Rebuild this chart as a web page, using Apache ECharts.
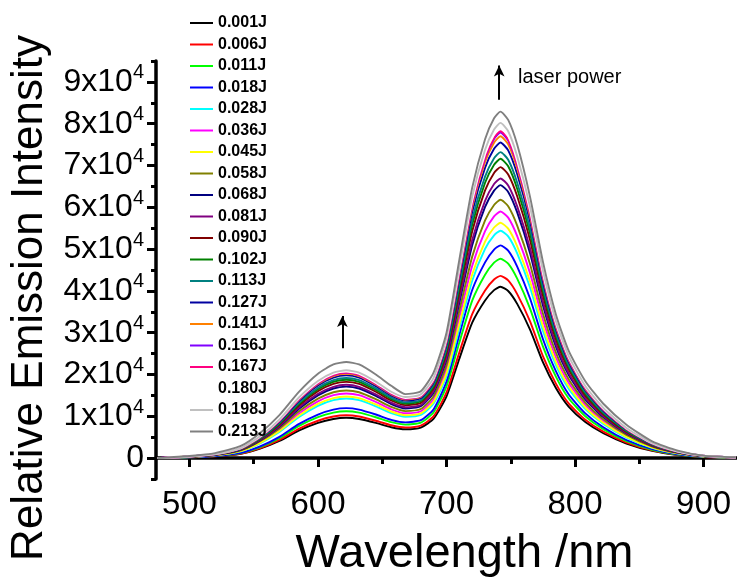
<!DOCTYPE html>
<html><head><meta charset="utf-8">
<script src="https://cdn.jsdelivr.net/npm/echarts@6/dist/echarts.min.js"></script>
<style>html,body{margin:0;padding:0;background:#fff}#c{width:737px;height:583px}</style>
</head><body><div id="c"></div>
<script>
const wavelengths = [475,500,520,540,555,570,585,600,612,622,632,645,657,668,680,690,700,710,720,730,737,742,748,755,765,775,785,795,808,822,840,860,880,900,925];
const energyLabels = ['0.001J','0.006J','0.011J','0.018J','0.028J','0.036J','0.045J','0.058J','0.068J','0.081J','0.090J','0.102J','0.113J','0.127J','0.141J','0.156J','0.167J','0.180J','0.198J','0.213J'];
const seriesColors = ['#000000','#ff0000','#00ff00','#0000ff','#00ffff','#ff00ff','#ffff00','#808000','#000080','#800080','#800000','#008000','#008080','#0000a0','#ff8000','#8000ff','#ff0080','#ffffff','#c0c0c0','#808080'];

const e001 = [0,160,410,1030,2260,4100,6560,8410,9350,9640,9350,8410,7380,6890,7300,9430,14760,23780,32390,37720,40180,41000,39980,36900,30750,22960,16810,12300,8610,5950,3490,1720,740,250,80];
const e006 = [0,170,440,1090,2400,4360,6980,8940,9940,10250,9940,8940,7850,7320,7760,10030,15700,25290,34440,40110,42730,43600,42510,39240,32700,24420,17880,13080,9160,6320,3710,1830,780,260,90];
const e011 = [0,190,480,1190,2620,4770,7630,9780,10880,11210,10880,9780,8590,8010,8490,10970,17170,27670,37680,43880,46750,47700,46510,42930,35780,26710,19560,14310,10020,6920,4050,2000,860,290,100];
const e018 = [0,200,510,1270,2800,5090,8140,10430,11610,11960,11610,10430,9160,8550,9060,11710,18320,29520,40210,46830,49880,50900,49630,45810,38180,28500,20870,15270,10690,7380,4330,2140,920,310,100];
const e028 = [0,270,650,1630,3540,6260,9790,12510,13870,14250,13870,12400,10770,9900,10340,13060,19580,31010,42430,50050,53310,54400,53040,48960,40800,30460,22300,16590,11700,8160,4900,2450,1090,380,110];
const e036 = [0,300,710,1770,3840,6790,10620,13570,15050,15460,15050,13450,11680,10740,11210,14160,21240,33630,46020,54280,57820,59000,57530,53100,44250,33040,24190,18000,12690,8850,5310,2660,1180,410,120];
const e045 = [0,280,680,1690,3660,6470,10130,12950,14360,14750,14360,12840,11150,10250,10700,13510,20270,32090,43910,51800,55170,56300,54890,50670,42230,31530,23080,17170,12100,8450,5070,2530,1130,390,110];
const e058 = [0,310,740,1850,4020,7110,11120,14210,15760,16190,15760,14090,12240,11250,11740,14830,22250,35230,48200,56860,60560,61800,60260,55620,46350,34610,25340,18850,13290,9270,5560,2780,1240,430,120];
const e068 = [0,330,780,1960,4240,7510,11750,15020,16650,17110,16650,14890,12930,11880,12410,15670,23510,37220,50930,60080,63990,65300,63670,58770,48980,36570,26770,19920,14040,9800,5880,2940,1310,460,130];
const e081 = [0,330,800,2010,4350,7690,12040,15390,17060,17530,17060,15250,13250,12180,12710,16060,24080,38130,52180,61550,65560,66900,65230,60210,50180,37460,27430,20400,14380,10040,6020,3010,1340,470,130];
const e090 = [0,350,840,2090,4520,8000,12530,16010,17750,18240,17750,15870,13780,12670,13220,16700,25060,39670,54290,64030,68210,69600,67860,62640,52200,38980,28540,21230,14960,10440,6260,3130,1390,490,140];
const e102 = [0,360,860,2150,4650,8230,12890,16470,18260,18760,18260,16320,14180,13030,13600,17180,25780,40810,55850,65870,70170,71600,69810,64440,53700,40100,29360,21840,15390,10740,6440,3220,1430,500,140];
const e113 = [0,370,880,2200,4760,8420,13180,16840,18670,19180,18670,16690,14490,13320,13910,17570,26350,41720,57100,67340,71740,73200,71370,65880,54900,40990,30010,22330,15740,10980,6590,3290,1460,510,150];
const e127 = [0,380,910,2270,4910,8680,13590,17370,19250,19780,19250,17210,14950,13740,14350,18120,27180,43040,58890,69460,73990,75500,73610,67950,56630,42280,30960,23030,16230,11330,6800,3400,1510,530,150];
const e141 = [0,390,920,2310,5010,8860,13860,17710,19640,20170,19640,17560,15250,14010,14630,18480,27720,43890,60060,70840,75460,77000,75080,69300,57750,43120,31570,23490,16560,11550,6930,3470,1540,540,150];
const e156 = [0,390,930,2340,5060,8960,14020,17920,19860,20410,19860,17760,15420,14180,14800,18700,28040,44400,60760,71670,76340,77900,75950,70110,58430,43620,31940,23760,16750,11690,7010,3510,1560,550,160];
const e167 = [0,390,940,2350,5080,8990,14080,17990,19940,20490,19940,17830,15480,14230,14860,18770,28150,44570,61000,71940,76640,78200,76250,70380,58650,43790,32060,23850,16810,11730,7040,3520,1560,550,160];
const e180 = [0,400,950,2370,5140,9090,14220,18170,20150,20700,20150,18010,15640,14380,15010,18960,28440,45030,61620,72680,77420,79000,77030,71100,59250,44240,32390,24100,16990,11850,7110,3560,1580,550,160];
const e198 = [0,400,960,2410,5210,9220,14440,18450,20450,21010,20450,18290,15880,14600,15240,19250,28870,45710,62560,73780,78600,80200,78200,72180,60150,44910,32880,24460,17240,12030,7220,3610,1600,560,160];
const e213 = [0,500,1200,2900,6000,10300,15800,20200,22400,23000,22400,20000,17300,15300,16000,20500,30000,47500,64700,76300,81300,82900,80900,75000,62500,47000,34500,25700,18400,13000,8000,4000,1800,600,200];

const intensities = [e001,e006,e011,e018,e028,e036,e045,e058,e068,e081,e090,e102,e113,e127,e141,e156,e167,e180,e198,e213];

const yMajorTicks = [0,10000,20000,30000,40000,50000,60000,70000,80000,90000];
const yMinorTicks = [-5000,5000,15000,25000,35000,45000,55000,65000,75000,85000,95000];
const xMajorTicks = [500,600,700,800,900];
const xMinorTicks = [550,650,750,850];
const arrowLow = [[619,26300],[619,34000]];
const arrowHigh = [[741,85700],[741,93900]];
const annotation = 'laser power';

const FONT = '"Liberation Sans", Arial, sans-serif';
const chart = echarts.init(document.getElementById('c'), null, {renderer:'canvas'});

const series = intensities.map((vals, i) => ({
  name: energyLabels[i],
  type: 'line',
  xAxisIndex: 0, yAxisIndex: 0,
  data: wavelengths.map((w, k) => [w, vals[k]]),
  showSymbol: false,
  smooth: 0.2,
  color: seriesColors[i],
  lineStyle: {width: 1.9, color: seriesColors[i]},
  animation: false,
  z: 2
}));
series[series.length-1].markLine = {
  silent: true,
  symbol: ['none','arrow'],
  symbolSize: [8, 11],
  label: {show: false},
  lineStyle: {color: '#000', width: 2, type: 'solid'},
  data: [
    [{coord: arrowLow[0]}, {coord: arrowLow[1]}],
    [{coord: arrowHigh[0]}, {coord: arrowHigh[1]}]
  ],
  animation: false
};

const axisBlack = {color:'#000', width:3.5};
chart.setOption({
  backgroundColor: '#fff',
  animation: false,
  grid: {left:153, right:0, top:61, bottom:96, containLabel:false},
  legend: {
    data: energyLabels,
    orient: 'vertical',
    left: 190, top: 14,
    icon: 'rect',
    itemWidth: 23, itemHeight: 2,
    itemGap: 3.5,
    padding: 0,
    textStyle: {fontSize: 16, fontWeight: 'bold', color: '#000', fontFamily: FONT, lineHeight: 18}
  },
  xAxis: [{
    type: 'value', min: 474, max: 926,
    axisLine: {lineStyle: axisBlack},
    axisTick: {customValues: xMajorTicks, length: 9, lineStyle: {color:'#000', width:3}},
    axisLabel: {customValues: xMajorTicks, fontSize: 33, color:'#000', fontFamily: FONT, margin: 9},
    splitLine: {show:false},
    name: 'Wavelength /nm', nameLocation: 'middle', nameGap: 52,
    nameTextStyle: {fontSize: 47, color:'#000', fontFamily: FONT, padding:[0,0,0,36]}
  }, {
    type: 'value', min: 474, max: 926, position: 'bottom',
    axisLine: {show:false},
    axisTick: {customValues: xMinorTicks, length: 6, lineStyle: {color:'#000', width:3}},
    axisLabel: {show:false}, splitLine: {show:false}
  }],
  yAxis: [{
    type: 'value', min: -5000, max: 95000,
    axisLine: {lineStyle: axisBlack},
    axisTick: {customValues: yMajorTicks, length: 9, lineStyle: {color:'#000', width:3}},
    axisLabel: {
      customValues: yMajorTicks, margin: 12, color:'#000',
      formatter: v => v === 0 ? '{b|0}' : '{b|' + (v/10000) + 'x10}{s|4}',
      rich: {
        b: {fontSize: 32, fontFamily: FONT, color:'#000'},
        s: {fontSize: 20, fontFamily: FONT, color:'#000', padding:[0,0,18,0]}
      }
    },
    splitLine: {show:false},
    name: 'Relative Emission Intensity', nameLocation: 'middle', nameGap: 104,
    nameTextStyle: {fontSize: 44, color:'#000', fontFamily: FONT, padding:[0,56,0,0]}
  }, {
    type: 'value', min: -5000, max: 95000, position: 'left',
    axisLine: {show:false},
    axisTick: {customValues: yMinorTicks, length: 5, lineStyle: {color:'#000', width:3}},
    axisLabel: {show:false}, splitLine: {show:false}
  }],
  graphic: [{
    type: 'text', left: 518, top: 67, silent: true,
    style: {text: annotation, fontSize: 20, fontFamily: FONT, fill: '#000'}
  }],
  series: series
});
</script></body></html>
